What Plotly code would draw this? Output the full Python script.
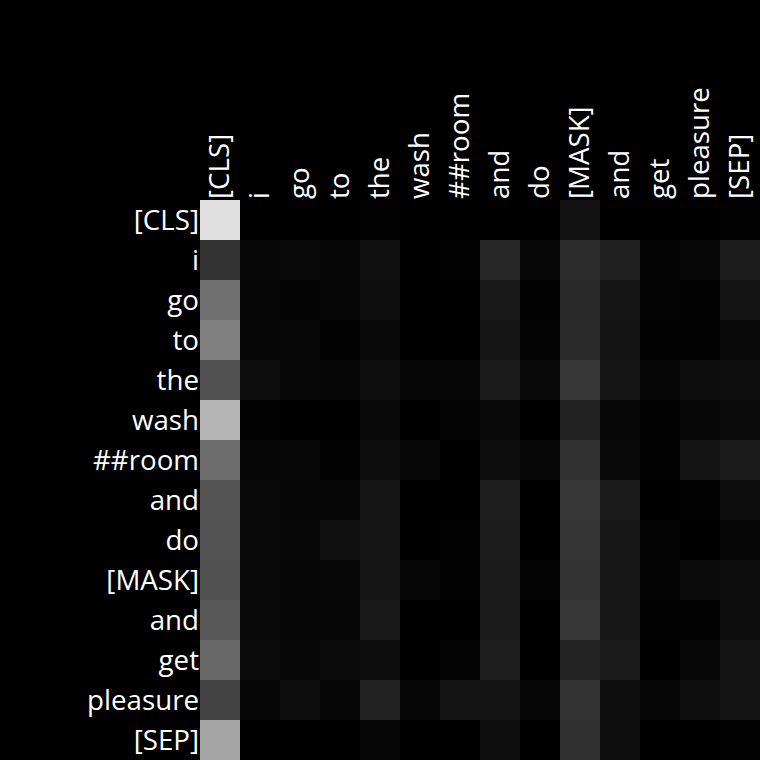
import plotly.graph_objects as go

tokens = ["[CLS]", "i", "go", "to", "the", "wash", "##room", "and", "do",
          "[MASK]", "and", "get", "pleasure", "[SEP]"]

# attention weights (row = query token, column = key token), 0..1
r00 = [224, 0, 0, 0, 2, 0, 0, 1, 1, 18, 1, 1, 1, 2]
r01 = [51, 8, 10, 6, 17, 1, 2, 39, 8, 44, 32, 4, 8, 28]
r02 = [112, 5, 4, 6, 14, 0, 1, 25, 2, 40, 21, 4, 3, 19]
r03 = [128, 5, 7, 3, 10, 0, 0, 22, 4, 43, 20, 3, 2, 10]
r04 = [80, 12, 8, 6, 14, 5, 5, 26, 10, 55, 21, 6, 12, 15]
r05 = [180, 2, 1, 1, 9, 0, 4, 9, 1, 34, 7, 2, 7, 11]
r06 = [108, 6, 7, 3, 12, 8, 1, 12, 7, 49, 9, 3, 19, 27]
r07 = [85, 10, 6, 6, 22, 0, 0, 30, 1, 55, 26, 1, 2, 12]
r08 = [82, 9, 8, 17, 21, 0, 2, 29, 0, 53, 23, 4, 1, 5]
r09 = [80, 9, 5, 8, 22, 6, 3, 27, 4, 51, 23, 4, 11, 13]
r10 = [88, 9, 5, 6, 25, 0, 0, 27, 1, 55, 24, 2, 3, 13]
r11 = [103, 11, 8, 11, 12, 0, 4, 30, 1, 36, 27, 1, 7, 19]
r12 = [66, 6, 12, 5, 34, 5, 19, 19, 5, 51, 15, 5, 14, 20]
r13 = [164, 1, 1, 1, 6, 1, 1, 14, 1, 47, 14, 0, 0, 3]

rows = [r00, r01, r02, r03, r04, r05, r06, r07, r08, r09, r10, r11, r12, r13]
z = [[v / 255.0 for v in row] for row in rows]

idx = list(range(len(tokens)))

fig = go.Figure(go.Heatmap(
    z=z, x=idx, y=idx,
    colorscale=[[0, "#000000"], [1, "#ffffff"]],
    zmin=0, zmax=1, showscale=False, xgap=0, ygap=0,
))

font = dict(family="Open Sans", size=27.7, color="#ffffff")
fig.update_layout(
    width=760, height=760,
    margin=dict(l=200, r=0, t=200, b=0, pad=0),
    paper_bgcolor="#000000", plot_bgcolor="#000000",
    font=font,
    xaxis=dict(side="top", tickmode="array", tickvals=idx, ticktext=tokens,
               tickangle=-90, showgrid=False, zeroline=False, ticks="",
               range=[-0.5, 13.5], tickfont=font, ticklabelstandoff=0),
    yaxis=dict(tickmode="array", tickvals=idx, ticktext=tokens,
               autorange=False, range=[13.5, -0.5], showgrid=False,
               zeroline=False, ticks="", tickfont=font, ticklabelstandoff=0),
)

fig.write_html("out.html")
